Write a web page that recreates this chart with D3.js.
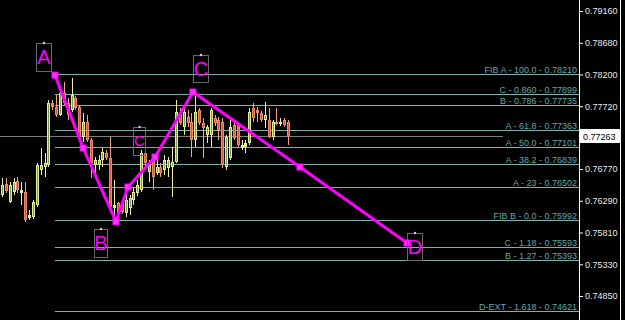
<!DOCTYPE html>
<html>
<head>
<meta charset="utf-8">
<script src="https://cdn.jsdelivr.net/npm/d3@7"></script>
<style>
  html, body { margin: 0; padding: 0; background: #000; overflow: hidden; }
  svg { display: block; }
</style>
</head>
<body>
<svg id="vizarea"></svg>
<script>
'use strict';

// candles, one entry per bar, left to right
const opens = [0.76378, 0.76544, 0.76272, 0.76423, 0.76590, 0.76408, 0.76423, 0.76030, 0.76045, 0.76227,
  0.76756, 0.76801, 0.76832, 0.77769, 0.77709, 0.77588, 0.77920, 0.77769, 0.77663, 0.77845,
  0.77709, 0.77255, 0.77482, 0.77210, 0.76832, 0.76832, 0.76907, 0.77013, 0.76937, 0.76181,
  0.76257, 0.76257, 0.76106, 0.76181, 0.76302, 0.76408, 0.76454, 0.77013, 0.76726, 0.76907,
  0.76711, 0.76801, 0.76756, 0.76786, 0.76801, 0.76877, 0.77618, 0.77406, 0.77557, 0.77482,
  0.77210, 0.77663, 0.77467, 0.77285, 0.77285, 0.77542, 0.77512, 0.77482, 0.76801, 0.76937,
  0.77436, 0.77467, 0.77089, 0.77104, 0.77164, 0.77693, 0.77663, 0.77618, 0.77512, 0.77512,
  0.77255, 0.77482, 0.77451, 0.77512, 0.77482];
const highs = [0.76635, 0.76635, 0.76574, 0.76635, 0.76650, 0.76574, 0.76574, 0.76151, 0.76302, 0.76862,
  0.77089, 0.77013, 0.77814, 0.77814, 0.77890, 0.77966, 0.78087, 0.77845, 0.78147, 0.77875,
  0.77739, 0.77618, 0.77588, 0.77240, 0.76952, 0.76983, 0.77089, 0.77058, 0.77255, 0.76605,
  0.76272, 0.76302, 0.76499, 0.76378, 0.76484, 0.76605, 0.77058, 0.77058, 0.76907, 0.76952,
  0.76907, 0.76862, 0.76983, 0.76952, 0.77104, 0.77814, 0.77693, 0.77709, 0.77663, 0.77618,
  0.77890, 0.77693, 0.77542, 0.77436, 0.77693, 0.77588, 0.77557, 0.77542, 0.77285, 0.77542,
  0.77482, 0.77482, 0.77210, 0.77210, 0.77693, 0.77769, 0.77709, 0.77648, 0.77784, 0.77693,
  0.77512, 0.77693, 0.77542, 0.77542, 0.77512];
const lows = [0.76348, 0.76408, 0.76257, 0.76378, 0.76408, 0.76227, 0.75970, 0.76000, 0.76015, 0.76196,
  0.76680, 0.76650, 0.76801, 0.77663, 0.77557, 0.77572, 0.77739, 0.77512, 0.77633, 0.77663,
  0.77240, 0.77179, 0.77179, 0.76635, 0.76711, 0.76756, 0.76801, 0.76907, 0.76181, 0.76045,
  0.76075, 0.76091, 0.76045, 0.76075, 0.76227, 0.76363, 0.76423, 0.76801, 0.76574, 0.76454,
  0.76680, 0.76650, 0.76680, 0.76650, 0.76348, 0.76862, 0.77436, 0.77285, 0.77406, 0.76952,
  0.77104, 0.77436, 0.76937, 0.77164, 0.77104, 0.77421, 0.77210, 0.76786, 0.76756, 0.76907,
  0.77210, 0.77104, 0.77058, 0.77013, 0.77134, 0.77482, 0.77482, 0.77482, 0.77391, 0.77240,
  0.77210, 0.77436, 0.77421, 0.77406, 0.77134];
const closes = [0.76529, 0.76438, 0.76529, 0.76574, 0.76454, 0.76454, 0.76000, 0.76075, 0.76272, 0.76832,
  0.76832, 0.76862, 0.77769, 0.77709, 0.77588, 0.77920, 0.77769, 0.77588, 0.77890, 0.77693,
  0.77255, 0.77482, 0.77210, 0.76862, 0.76907, 0.76907, 0.77028, 0.76937, 0.76196, 0.76227,
  0.76106, 0.76121, 0.76302, 0.76333, 0.76423, 0.76529, 0.77013, 0.76862, 0.76832, 0.76650,
  0.76801, 0.76711, 0.76907, 0.76907, 0.76877, 0.77633, 0.77467, 0.77633, 0.77467, 0.77210,
  0.77633, 0.77467, 0.77391, 0.77406, 0.77663, 0.77467, 0.77361, 0.76832, 0.77255, 0.77406,
  0.77240, 0.77134, 0.77134, 0.77164, 0.77633, 0.77542, 0.77618, 0.77512, 0.77588, 0.77255,
  0.77482, 0.77451, 0.77482, 0.77436, 0.77263];

// fibonacci levels drawn by the indicator
const fibNames = ['FIB A - 100.0', 'C - 0.860', 'B - 0.786', 'A - 61.8', 'A - 50.0', 'A - 38.2',
  'A - 23', 'FIB B  - 0.0', 'C - 1.18', 'B - 1.27', 'D-EXT - 1.618'];
const fibValues = [0.78210, 0.77899, 0.77735, 0.77363, 0.77101, 0.76839, 0.76502, 0.75992, 0.75593,
  0.75393, 0.74621];

// price axis
const tickValues = [0.79160, 0.78680, 0.78200, 0.77720, 0.76770, 0.76290, 0.75810, 0.75330, 0.74850];
const currentPrice = 0.77263;

// ABCD swing path (bar index, price), '' = intermediate node
const patternNames = ['A', '', 'B', '', 'c', 'C', '', 'D'];
const patternIdx = [13.7, 21, 29.5, 32.6, 39.6, 49.4, 77.1, 104.8];
const patternPrice = [0.78190, 0.77088, 0.75975, 0.76498, 0.76952, 0.77935, 0.76801, 0.75652];

(function() {
  window.addEventListener('load', init);

  function init() {
    const width = 625;
    const height = 320;
    const axisX = 579;

    const svg = d3.select('#vizarea')
                  .attr('width', width)
                  .attr('height', height)
                  .style('background', '#000');

    const x = d3.scaleLinear()
                .domain([0, opens.length - 1])
                .range([2, 288]);

    const y = d3.scaleLinear()
                .domain([0.79160, 0.74850])
                .range([11, 296]);

    const font = '"Liberation Sans", Arial, sans-serif';

    // fib lines + labels
    const fx0 = x(patternIdx[0]);
    const fib = svg.append('g');
    fib.selectAll('line')
       .data(fibValues)
       .enter()
       .append('line')
         .attr('x1', fx0)
         .attr('x2', axisX)
         .attr('y1', d => Math.round(y(d)) + 0.5)
         .attr('y2', d => Math.round(y(d)) + 0.5)
         .attr('stroke', '#7fb0ae')
         .attr('stroke-width', 1);

    fib.selectAll('text')
       .data(fibValues)
       .enter()
       .append('text')
         .attr('x', axisX - 2)
         .attr('y', d => Math.round(y(d)) - 1.5)
         .attr('text-anchor', 'end')
         .attr('fill', '#62a9a2')
         .attr('font-family', font)
         .attr('font-size', '9px')
         .text((d, i) => fibNames[i] + ' - ' + d.toFixed(5));

    // bid line
    svg.append('line')
       .attr('x1', 0)
       .attr('x2', 503)
       .attr('y1', Math.round(y(currentPrice)) + 0.5)
       .attr('y2', Math.round(y(currentPrice)) + 0.5)
       .attr('stroke', '#808080')
       .attr('stroke-width', 1);

    // candles
    const bars = d3.range(opens.length).map(i => ({
      i: i, o: opens[i], h: highs[i], l: lows[i], c: closes[i], up: closes[i] >= opens[i]
    }));

    const g = svg.append('g');
    const candle = g.selectAll('g')
                    .data(bars)
                    .enter()
                    .append('g');

    candle.append('line')
          .attr('x1', d => Math.round(x(d.i)) + 0.5)
          .attr('x2', d => Math.round(x(d.i)) + 0.5)
          .attr('y1', d => y(d.h))
          .attr('y2', d => y(d.l))
          .attr('stroke', d => d.up ? '#eef2a8' : '#f5a48c')
          .attr('stroke-width', 1);

    candle.append('rect')
          .attr('x', d => Math.round(x(d.i)) - 1)
          .attr('y', d => y(Math.max(d.o, d.c)))
          .attr('width', 3)
          .attr('height', d => Math.max(1, Math.abs(y(d.o) - y(d.c))))
          .attr('fill', d => d.up ? '#e6ee9a' : '#f08a6c');

    candle.filter(d => Math.abs(y(d.o) - y(d.c)) > 4)
          .append('rect')
          .attr('x', d => Math.round(x(d.i)))
          .attr('y', d => y(Math.max(d.o, d.c)) + 1)
          .attr('width', 1)
          .attr('height', d => Math.abs(y(d.o) - y(d.c)) - 2)
          .attr('fill', d => d.up ? '#7f9e3e' : '#d9533a');

    // ABCD path
    const pts = patternIdx.map((d, i) => ({ i: d, p: patternPrice[i], name: patternNames[i] }));
    const line = d3.line()
                   .x(d => x(d.i))
                   .y(d => y(d.p));

    svg.append('path')
       .datum(pts)
       .attr('fill', 'none')
       .attr('stroke', '#ff00ff')
       .attr('stroke-width', 3)
       .attr('stroke-linejoin', 'round')
       .attr('d', line);

    svg.selectAll('.node')
       .data(pts)
       .enter()
       .append('rect')
         .attr('class', 'node')
         .attr('x', d => x(d.i) - 3)
         .attr('y', d => y(d.p) - 3)
         .attr('width', 6)
         .attr('height', 6)
         .attr('fill', '#ff33ff')
         .attr('stroke', '#ff00ff');

    // letter boxes, offsets from their node: [dx, dy, w, h, fontSize]
    const boxes = {
      A: [-19, -32, 15, 28, 20],
      B: [-22, 7, 13, 28, 20],
      C: [0, -37, 15, 27, 20],
      D: [0, -10, 15, 27, 20],
      c: [-22, -30, 12, 28, 15]
    };

    const labels = svg.selectAll('.lbl')
                      .data(pts.filter(d => d.name))
                      .enter()
                      .append('g')
                        .attr('class', 'lbl')
                        .attr('transform', d => {
                          const b = boxes[d.name];
                          return `translate(${Math.round(x(d.i)) + b[0]}, ${Math.round(y(d.p)) + b[1]})`;
                        });

    labels.append('rect')
          .attr('x', 0.5)
          .attr('y', 0.5)
          .attr('width', d => boxes[d.name][2])
          .attr('height', d => boxes[d.name][3])
          .attr('fill', 'none')
          .attr('stroke', '#6a6a6a');

    labels.append('circle')
          .attr('cx', d => boxes[d.name][2] / 2 + 0.5)
          .attr('cy', 0)
          .attr('r', 1.2)
          .attr('fill', '#ffb0ff');

    labels.append('text')
          .attr('x', d => boxes[d.name][2] / 2 + 0.5)
          .attr('y', d => boxes[d.name][3] / 2 + boxes[d.name][4] * 0.36)
          .attr('text-anchor', 'middle')
          .attr('fill', '#ff00ff')
          .attr('font-family', font)
          .attr('font-size', d => boxes[d.name][4] + 'px')
          .text(d => d.name.toUpperCase());

    // price axis
    svg.append('line')
       .attr('x1', axisX + 0.5)
       .attr('x2', axisX + 0.5)
       .attr('y1', 0)
       .attr('y2', height)
       .attr('stroke', '#fff');

    svg.append('line')
       .attr('x1', 620.5)
       .attr('x2', 620.5)
       .attr('y1', 0)
       .attr('y2', height)
       .attr('stroke', '#fff');

    const axis = svg.append('g')
                    .attr('transform', `translate(${axisX + 1}, 0)`)
                    .call(d3.axisRight(y)
                            .tickValues(tickValues)
                            .tickSize(3)
                            .tickPadding(2)
                            .tickFormat(d3.format('.5f')));
    axis.select('.domain').remove();
    axis.selectAll('line').attr('stroke', '#fff');
    axis.selectAll('text')
        .attr('fill', '#e8e8e8')
        .attr('font-family', font)
        .attr('font-size', '9px');

    // current price tag
    const cy = Math.round(y(currentPrice));
    svg.append('rect')
       .attr('x', axisX + 1)
       .attr('y', cy - 7)
       .attr('width', 40)
       .attr('height', 14)
       .attr('fill', '#fff');
    svg.append('text')
       .attr('x', axisX + 4)
       .attr('y', cy + 3.5)
       .attr('fill', '#000')
       .attr('font-family', font)
       .attr('font-size', '9px')
       .text(currentPrice.toFixed(5));
  }
})();
</script>
</body>
</html>
